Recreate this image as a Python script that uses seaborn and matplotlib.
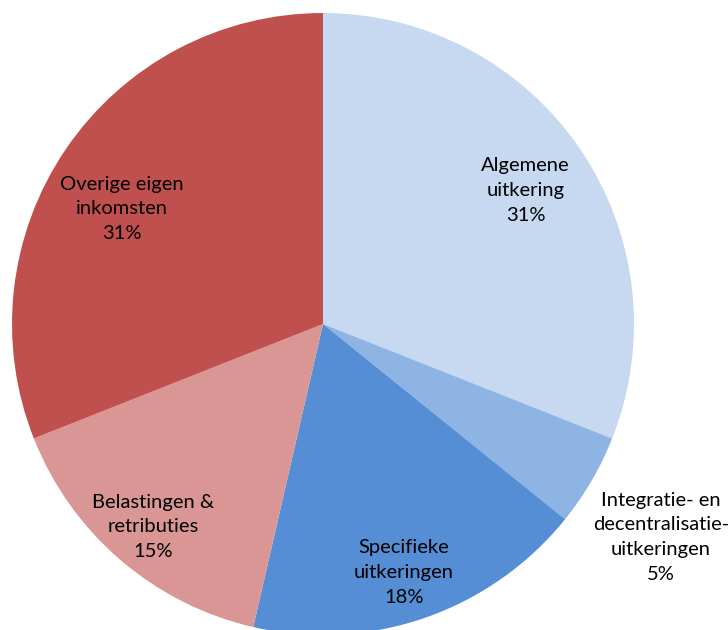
import matplotlib
matplotlib.use("Agg")
import matplotlib.pyplot as plt
import seaborn as sns
import numpy as np

categories = ["Algemene\nuitkering", "Integratie- en\ndecentralisatie-\nuitkeringen",
              "Specifieke\nuitkeringen", "Belastingen &\nretributies", "Overige eigen\ninkomsten"]
values = [31.0, 4.8, 17.8, 15.4, 31.0]
colors = ["#C6D9F1", "#8EB4E3", "#558ED5", "#D99694", "#C0504D"]

# label placement (fraction of radius, angular offset in degrees)
label_dist = [0.78, 1.285, 0.84, 0.85, 0.745]
label_dang = [-0.8, -2.0, -1.0, 0.8, 4.4]

sns.set_theme(style="white")
plt.rcParams['font.family'] = ['Lato', 'DejaVu Sans']

W, H = 728, 630
fig = plt.figure(figsize=(W / 100, H / 100), dpi=100)
ax = fig.add_axes([0, 0, 1, 1])

cx, cy, R = 323, 306, 311
wedges, _ = ax.pie(values, colors=colors, startangle=90, counterclock=False,
                   center=(cx, cy), radius=R, wedgeprops=dict(linewidth=0))

for w, cat, v, d, da in zip(wedges, categories, values, label_dist, label_dang):
    mid = np.deg2rad((w.theta1 + w.theta2) / 2 + da)
    x = cx + d * R * np.cos(mid)
    y = cy + d * R * np.sin(mid)
    ax.text(x, y, f"{cat}\n{round(v):d}%", ha="center", va="center",
            fontsize=14.5, color="black", linespacing=1.55)

ax.set_xlim(0, W)
ax.set_ylim(0, H)
ax.set_aspect("equal")
ax.axis("off")
fig.savefig("out.png", dpi=100, facecolor="white")
